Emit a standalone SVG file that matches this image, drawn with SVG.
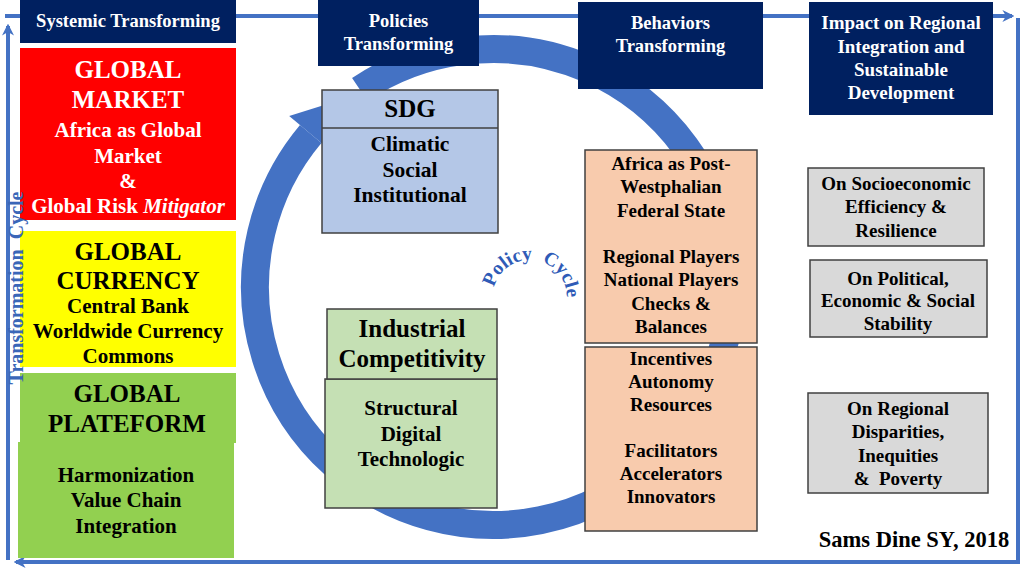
<svg xmlns="http://www.w3.org/2000/svg" width="1024" height="576" viewBox="0 0 1024 576">
<defs>
<marker id="ah" viewBox="0 0 10 10" refX="8" refY="5" markerWidth="3" markerHeight="3" orient="auto" markerUnits="strokeWidth">
<path d="M0,0 L10,5 L0,10 L3,5 Z" fill="#4472C4"/>
</marker>
<path id="pc" d="M 494.0,287.3 A 37 37 0 1 1 563.8,311.3"/>
</defs>
<style>
text{font-family:"Liberation Serif","Times New Roman",serif;font-weight:bold;text-anchor:middle}
.w{fill:#FFFFFF}
.k{fill:#000000}
.h{font-size:18.5px}
.big{font-size:25px}
.mid{font-size:21px}
.sm{font-size:19px}
.navy{fill:#002060}
.box{stroke:#404040;stroke-width:1.5}
.frame{fill:none;stroke:#4472C4;stroke-width:4}
</style>
<rect width="1024" height="576" fill="#FFFFFF"/>
<g id="connectors">
<line class="frame" x1="5" y1="16" x2="1012" y2="16" marker-end="url(#ah)"/>
<line class="frame" x1="1018" y1="18" x2="1018" y2="562"/>
<line class="frame" x1="1020" y1="562" x2="16" y2="562" marker-end="url(#ah)"/>
<line class="frame" x1="8" y1="560" x2="8" y2="26" marker-end="url(#ah)"/>
<path d="M 359.9,89.7 A 238 238 0 1 1 310.7,134.0" fill="none" stroke="#4472C4" stroke-width="28"/>
<polygon points="332.1,152.0 289.2,116.0 349.7,96.9" fill="#4472C4"/>
</g>
<g id="policy-cycle-label">
<text style="font-size:19.5px;text-anchor:start" fill="#2F5BB7" xml:space="preserve"><textPath href="#pc">Policy  Cycle</textPath></text>
</g>
<g id="header-systemic">
<rect class="navy" x="20" y="0" width="216" height="43"/>
<text class="w h" x="128" y="27">Systemic Transforming</text>
</g>
<g id="header-policies">
<rect class="navy" x="318" y="0" width="161" height="66"/>
<text class="w h" x="398.5" y="27">Policies</text>
<text class="w h" x="398.5" y="50">Transforming</text>
</g>
<g id="header-behaviors">
<rect class="navy" x="578" y="2" width="185" height="87"/>
<text class="w h" x="670.5" y="29">Behaviors</text>
<text class="w h" x="670.5" y="52">Transforming</text>
</g>
<g id="header-impact">
<rect class="navy" x="809" y="2" width="184" height="113"/>
<text class="w" style="font-size:19px" x="901" y="29">Impact on Regional</text>
<text class="w" style="font-size:19px" x="901" y="53">Integration and</text>
<text class="w" style="font-size:19px" x="901" y="76">Sustainable</text>
<text class="w" style="font-size:19px" x="901" y="99">Development</text>
</g>
<g id="global-market">
<rect x="20" y="48" width="216" height="172" fill="#FF0000"/>
<text class="w big" x="128" y="78">GLOBAL</text>
<text class="w big" x="128" y="108">MARKET</text>
<text class="w mid" x="128" y="137">Africa as Global</text>
<text class="w mid" x="128" y="163">Market</text>
<text class="w mid" x="128" y="188">&amp;</text>
<text class="w mid" x="128" y="213">Global Risk <tspan font-style="italic">Mitigator</tspan></text>
</g>
<g id="global-currency">
<rect x="20" y="231" width="216" height="136" fill="#FFFF00"/>
<text class="k big" x="128" y="260">GLOBAL</text>
<text class="k big" x="128" y="289">CURRENCY</text>
<text class="k mid" x="128" y="313">Central Bank</text>
<text class="k mid" x="128" y="338">Worldwide Currency</text>
<text class="k mid" x="128" y="363">Commons</text>
</g>
<g id="global-plateform">
<rect x="20" y="373" width="216" height="70" fill="#92D050"/>
<rect x="18" y="442" width="216" height="116" fill="#92D050"/>
<text class="k big" x="127" y="402">GLOBAL</text>
<text class="k big" x="127" y="432">PLATEFORM</text>
<text class="k mid" x="126" y="482">Harmonization</text>
<text class="k mid" x="126" y="507">Value Chain</text>
<text class="k mid" x="126" y="533">Integration</text>
</g>
<g id="sdg">
<rect class="box" x="322" y="90" width="176" height="143" fill="#B4C7E7"/>
<line x1="322" y1="128" x2="498" y2="128" stroke="#404040" stroke-width="1.5"/>
<text class="k big" x="410" y="117">SDG</text>
<text class="k mid" style="font-size:21.5px" x="410" y="151">Climatic</text>
<text class="k mid" style="font-size:21.5px" x="410" y="177">Social</text>
<text class="k mid" style="font-size:21.5px" x="410" y="202">Institutional</text>
</g>
<g id="industrial">
<rect class="box" x="325" y="379" width="172" height="129" fill="#C5E0B4"/>
<rect class="box" x="327" y="309" width="170" height="70" fill="#C5E0B4"/>
<text class="k big" x="412" y="337">Industrial</text>
<text class="k big" x="412" y="367">Competitivity</text>
<text class="k mid" x="411" y="415">Structural</text>
<text class="k mid" x="411" y="441">Digital</text>
<text class="k mid" x="411" y="466">Technologic</text>
</g>
<g id="behaviors-state">
<rect class="box" x="585" y="150" width="172" height="193" fill="#F8CBAD"/>
<text class="k sm" x="671" y="170">Africa as Post-</text>
<text class="k sm" x="671" y="193">Westphalian</text>
<text class="k sm" x="671" y="217">Federal State</text>
<text class="k sm" x="671" y="263">Regional Players</text>
<text class="k sm" x="671" y="286">National Players</text>
<text class="k sm" x="671" y="310">Checks &amp;</text>
<text class="k sm" x="671" y="333">Balances</text>
</g>
<g id="behaviors-incentives">
<rect class="box" x="585" y="347" width="172" height="184" fill="#F8CBAD"/>
<text class="k sm" x="671" y="365">Incentives</text>
<text class="k sm" x="671" y="388">Autonomy</text>
<text class="k sm" x="671" y="411">Resources</text>
<text class="k sm" x="671" y="457">Facilitators</text>
<text class="k sm" x="671" y="480">Accelerators</text>
<text class="k sm" x="671" y="503">Innovators</text>
</g>
<g id="impact-socioeconomic">
<rect class="box" x="808" y="168" width="176" height="78" fill="#D9D9D9"/>
<text class="k sm" x="896" y="190">On Socioeconomic</text>
<text class="k sm" x="896" y="213">Efficiency &amp;</text>
<text class="k sm" x="896" y="237">Resilience</text>
</g>
<g id="impact-political">
<rect class="box" x="810" y="260" width="177" height="77" fill="#D9D9D9"/>
<text class="k sm" x="898" y="285">On Political,</text>
<text class="k sm" x="898" y="307">Economic &amp; Social</text>
<text class="k sm" x="898" y="330">Stability</text>
</g>
<g id="impact-regional">
<rect class="box" x="808" y="393" width="180" height="100" fill="#D9D9D9"/>
<text class="k sm" x="898" y="415">On Regional</text>
<text class="k sm" x="898" y="438">Disparities,</text>
<text class="k sm" x="898" y="462">Inequities</text>
<text class="k sm" x="898" y="485" xml:space="preserve">&amp;  Poverty</text>
</g>
<g id="credit">
<text class="k" style="font-size:22.5px" x="914" y="547">Sams Dine SY, 2018</text>
</g>
<g id="transformation-cycle-label">
<text transform="translate(23,288) rotate(-90)" style="font-size:20px" fill="#3A66B8" xml:space="preserve">Transformation  Cycle</text>
</g>
</svg>
